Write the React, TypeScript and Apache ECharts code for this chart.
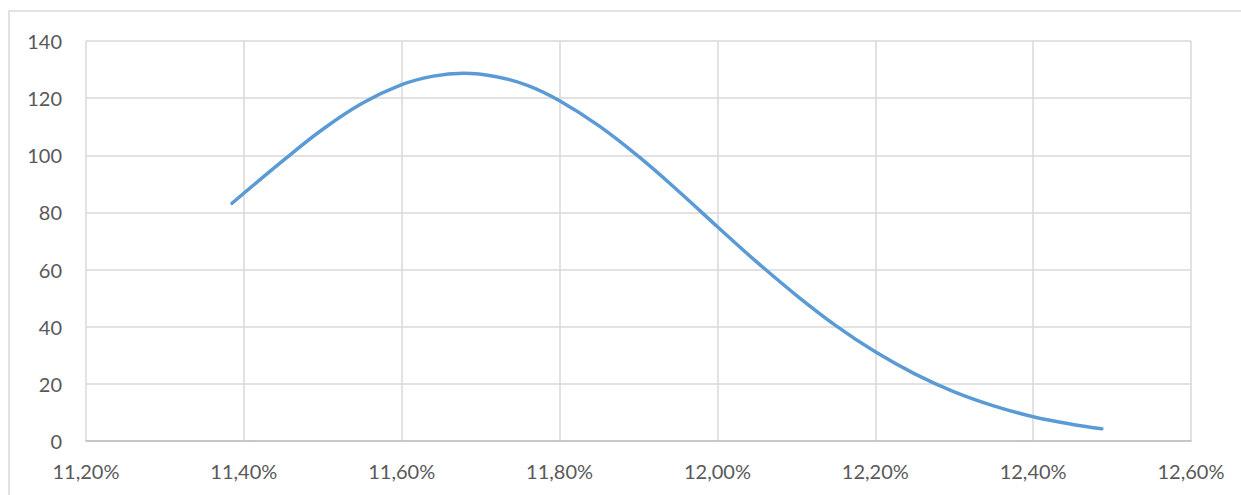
import React, { useEffect, useRef } from "react";
import * as echarts from "echarts";

// Return rate (%) on the x axis, density on the y axis
const rates: number[] = [
  11.385, 11.45, 11.5, 11.55, 11.6, 11.64, 11.678, 11.72, 11.76, 11.8, 11.85, 11.9,
  11.95, 12.0, 12.05, 12.1, 12.15, 12.2, 12.25, 12.3, 12.35, 12.4, 12.45, 12.487,
];
const density: number[] = [
  83.2, 98.2, 109.1, 118.2, 124.7, 127.7, 128.7, 127.5, 124.4, 119.1, 110.3, 99.6,
  87.6, 75.0, 62.6, 51.0, 40.4, 31.2, 23.5, 17.2, 12.3, 8.5, 5.8, 4.3,
];

const xMin = 11.2;
const xMax = 12.6;
const xStep = 0.2;
const yMin = 0;
const yMax = 140;
const yStep = 20;

const fmtPercent = (v: number) => v.toFixed(2).replace(".", ",") + "%";

export default function App() {
  const ref = useRef<HTMLDivElement>(null);

  useEffect(() => {
    if (!ref.current) return;
    const chart = echarts.init(ref.current, undefined, { renderer: "svg" });
    const labelStyle = {
      color: "#595959",
      fontFamily: "Lato, 'Open Sans', sans-serif",
      fontSize: 20,
    };
    chart.setOption({
      animation: false,
      backgroundColor: "#ffffff",
      graphic: [
        {
          type: "rect",
          shape: { x: 9, y: 11, width: 1260, height: 520 },
          style: { fill: "none", stroke: "#d9d9d9", lineWidth: 1.5 },
          silent: true,
          z: -1,
        },
      ],
      grid: { left: 86, right: 50, top: 41, bottom: 54, containLabel: false },
      xAxis: {
        type: "value",
        min: xMin,
        max: xMax,
        interval: xStep,
        axisLine: { show: true, onZero: false, lineStyle: { color: "#bfbfbf", width: 1.5 } },
        axisTick: { show: false },
        axisLabel: {
          ...labelStyle,
          margin: 20,
          formatter: (v: number) => fmtPercent(v),
        },
        splitLine: { show: true, lineStyle: { color: "#d9d9d9", width: 1.5 } },
      },
      yAxis: {
        type: "value",
        min: yMin,
        max: yMax,
        interval: yStep,
        axisLine: { show: false },
        axisTick: { show: false },
        axisLabel: { ...labelStyle, margin: 24 },
        splitLine: { show: true, lineStyle: { color: "#d9d9d9", width: 1.5 } },
      },
      series: [
        {
          type: "line",
          data: rates.map((r, i) => [r, density[i]]),
          smooth: 0.4,
          showSymbol: false,
          lineStyle: { color: "#5b9bd5", width: 3.5, cap: "round" },
        },
      ],
    });
    return () => chart.dispose();
  }, []);

  return (
    <div
      ref={ref}
      style={{ position: "fixed", left: 0, top: 0, width: 1241, height: 495 }}
    />
  );
}
